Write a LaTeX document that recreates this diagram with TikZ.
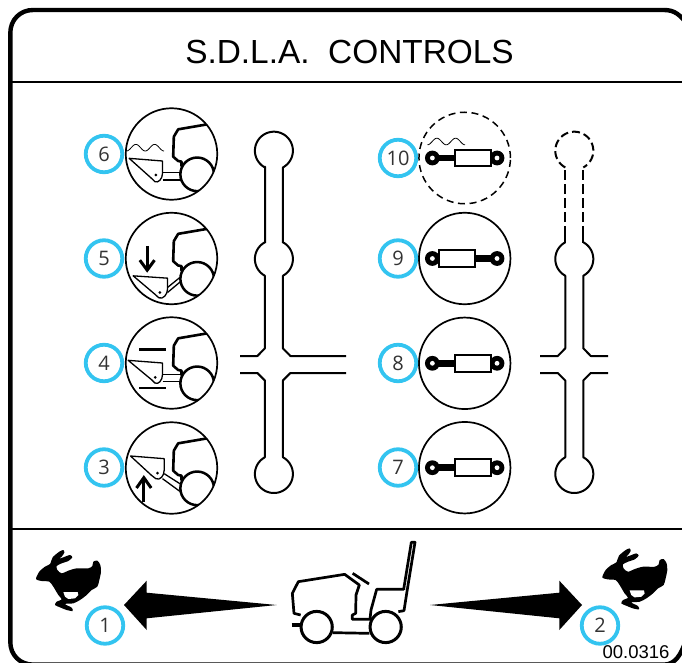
\documentclass[tikz,border=0pt]{standalone}
\usepackage{fontspec}
\setmainfont{Liberation Sans}
\newfontfamily\numfont{Open Sans}
\definecolor{badge}{HTML}{33C4F0}
\definecolor{numink}{HTML}{333333}
\tikzset{
  numbadge/.style={circle,draw=badge,line width=3.8pt,fill=white,minimum size=36.5pt,inner sep=0pt,font=\numfont\fontsize{20}{20}\selectfont,text=numink},
  iconcircle/.style={circle,draw=black,line width=1.7pt,minimum size=91.5pt,inner sep=0pt,fill=white},
  dashcircle/.style={circle,draw=black,line width=1.5pt,minimum size=91.5pt,inner sep=0pt,dash pattern=on 7pt off 4.6pt},
  heavy/.style={line width=2.6pt,line join=round,line cap=round},
  buck/.style={line width=1.3pt,line join=round},
  lever/.style={line width=2pt,line join=round},
  levera/.style={line width=2pt,dash pattern=on 10pt off 4pt},
  rail/.style={line width=1.8pt},
  thinwave/.style={line width=0.8pt},
  machine/.style={line width=2.7pt,line join=round},
  zoomframe/.style={shift={(#1)},x=0.33333pt,y=-0.33333pt},
}
% tractor front of an icon circle, offsets in 1/3 px
\newcommand{\IconBody}[1]{%
 \begin{scope}[zoomframe={#1}]
  \begin{scope}
   \clip (0,0) circle[radius=45.5pt];
   \draw[heavy] (125,-92) -- (20,-74) -- (7,-52) -- (5,8) -- (20,21) -- (30,23) -- (30,36);
   \draw[line width=2.5pt] (77,61) circle[radius=16.8pt];
  \end{scope}
 \end{scope}}
\newcommand{\Eye}[2]{\fill[black] (#1,#2) circle[radius=7.4pt]; \fill[white] (#1,#2) circle[radius=2.4pt];}
\newcommand{\Cyl}[3]{% cx cy barrel left offset
 \begin{scope}[zoomframe={#1,#2}]
  \fill[black] (-97,-10) rectangle (97,10);
  \Eye{-97}{0}\Eye{97}{0}
  \draw[line width=2.2pt,fill=white] (#3,-25) rectangle ++(107,50);
 \end{scope}}
\newcommand{\Wave}[3]{\draw[thinwave] plot[domain=0:720,samples=50] ({#1+\x/720*#3},{#2-3.3*sin(\x-90)});}
% lower part of a lever: cross ends and the bottom bulb
\newcommand{\LeverLow}[3]{%
 \draw[lever] (#2,373) -- ({#1-16.5},373) -- ({#1-9},380.5) -- ({#1-9},457.3)
   -- plot[domain=241.7:-61.7,samples=60] ({#1+19*cos(\x)},{474+19*sin(\x)})
   -- ({#1+9},380.5) -- ({#1+16.5},373) -- (#3,373);
 \draw[lever] (#2,356) -- ({#1-16.5},356) -- ({#1-9},348.3) -- ({#1-9},275.7)
   -- plot[domain=118.3:241.7,samples=30] ({#1+19*cos(\x)},{259+19*sin(\x)})
   ;
 \draw[lever] (#3,356) -- ({#1+16.5},356) -- ({#1+9},348.3) -- ({#1+9},275.7)
   -- plot[domain=61.7:-61.7,samples=30] ({#1+19*cos(\x)},{259+19*sin(\x)})
   ;}
\begin{document}
\begin{tikzpicture}[x=1pt,y=-1pt]
\useasboundingbox (0,0) rectangle (682,663);
\clip (0,0) rectangle (682,663);
% frame
\draw[line width=4.4pt] (664,10) .. controls (675,10) and (680,15) .. (688,25);
\draw[line width=4.4pt] (664,10) -- (33,10) .. controls (20,10) and (10.3,20) .. (10.3,33)
   -- (10.3,642) .. controls (10.3,655) and (20,664.6) .. (33,664.6) -- (664,664.6)
   .. controls (675,664.6) and (681,655) .. (686,640);
\draw[rail] (10,82.3) -- (690,82.3);
\draw[rail] (10,529) -- (690,529);
\node[inner sep=0pt,font=\fontsize{33.4}{34}\selectfont] (title) at (349.5,52) {S.D.L.A.\ \ CONTROLS};
% left icons
\node[iconcircle] (c6) at (171.5,154) {};
\node[iconcircle] (c5) at (171.5,258.5) {};
\node[iconcircle] (c4) at (171.5,363) {};
\node[iconcircle] (c3) at (171.5,468) {};
\IconBody{171.5,154}
\IconBody{171.5,258.5}
\IconBody{171.5,363}
\IconBody{171.5,468}
% icon 6
\begin{scope}[zoomframe={171.5,154}]
 \draw[buck] (-127,13) -- (-27,21) -- (-27,58) .. controls (-27,75) and (-40,88) .. (-50,83) -- (-60,73) -- cycle;
 \fill (-47,63) circle[radius=1.5pt];
 \draw[buck] (-27,55) -- (25,55) (-27,78) -- (30,78);
\end{scope}
\Wave{126.5}{147.7}{37.5}
% icon 5
\begin{scope}[zoomframe={171.5,258.5}]
 \draw[buck] (-115,52) -- (-12,59) -- (-12,92) .. controls (-12,108) and (-25,123) .. (-38,118) -- (-50,107) -- cycle;
 \fill (-35,102) circle[radius=1.5pt];
 \draw[buck] (-12,87) -- (25,57) (-12,102) -- (30,67);
 \draw[line width=3pt] (-73,-38) -- (-73,35);
 \draw[line width=3pt,line join=miter] (-95,5) -- (-73,35) -- (-51,5);
\end{scope}
% icon 4
\begin{scope}[zoomframe={171.5,363}]
 \draw[buck] (-130,-8) -- (-27,0) -- (-27,35) .. controls (-27,52) and (-40,66) .. (-50,60) -- (-60,50) -- cycle;
 \fill (-49,43) circle[radius=1.5pt];
 \draw[buck] (-27,35) -- (25,35) (-27,55) -- (25,55);
 \draw[line width=2.8pt] (-97,-40) -- (-18,-40) (-97,75) -- (-18,75);
\end{scope}
% icon 3
\begin{scope}[zoomframe={171.5,468}]
 \draw[buck] (-123,-36) -- (-22,-28) -- (-22,7) .. controls (-22,24) and (-35,38) .. (-47,32) -- (-60,22) -- cycle;
 \fill (-42,15) circle[radius=1.5pt];
 \draw[buck] (-22,17) -- (25,47) (-27,32) -- (25,70);
 \draw[line width=3pt] (-83,102) -- (-83,29);
 \draw[line width=3pt,line join=miter] (-105,60) -- (-83,29) -- (-61,60);
\end{scope}
% left lever
\draw[lever] (265,243) -- (265,166.7) -- plot[domain=118.3:421.7,samples=70] ({273.9+19*cos(\x)},{150.7+19*sin(\x)}) -- (282.8,243);
\LeverLow{273.9}{240}{346}
% right icons
\node[dashcircle] (c10) at (464.7,158) {};
\node[iconcircle] (c9) at (464.7,258.5) {};
\node[iconcircle] (c8) at (464.7,363.3) {};
\node[iconcircle] (c7) at (464.7,467.7) {};
\Wave{427.5}{141.5}{37.5}
\Cyl{464.7}{158}{-29}
\Cyl{464.7}{258.5}{-77}
\Cyl{464.7}{363.3}{-29}
\Cyl{464.7}{467.7}{-29}
% right lever
\draw[levera] (565.2,236) -- (565.2,166.7);
\draw[levera] (583.4,236) -- (583.4,166.7);
\draw[line width=2pt,dash pattern=on 8pt off 4pt] plot[domain=118.3:421.7,samples=70] ({574.3+19*cos(\x)},{150.7+19*sin(\x)});
\draw[lever] (565.2,236) -- (565.2,243);
\draw[lever] (583.4,236) -- (583.4,243);
\LeverLow{574.3}{540}{608}
% bottom panel: arrows
\fill[black] (124,605) -- (146.7,580.7) -- (146.7,592.7) -- (276.7,605) -- (146.7,618.3) -- (146.7,630) -- cycle;
\fill[black] (582,605) -- (559.3,580.7) -- (559.3,592.7) -- (430,605) -- (559.3,618.3) -- (559.3,630) -- cycle;
% machine
\begin{scope}[zoomframe={270,530}]
 \draw[machine] (92,255) -- (72,250) -- (67,190) -- (85,155) -- (224,133) -- (268,165) -- (258,195) -- (257,250) -- (247,255) -- (247,268) -- (300,268) -- (303,240) -- (320,178) -- (401,178) -- (424,37) -- (435,37) -- (412,178) -- (402,242) -- (385,245);
 \draw[machine] (248,130) -- (297,162);
 \draw[machine] (188,308) -- (298,310);
 \draw[line width=4.4pt] (65,285) -- (92,285);
 \draw[line width=3pt,fill=white] (140,291) circle[radius=15.6pt];
 \draw[line width=3pt,fill=white] (347,291) circle[radius=15.6pt];
\end{scope}
% rabbits
\foreach \rx/\ry in {20/530,586.3/528.4}{
\begin{scope}[zoomframe={\rx,\ry}]
 \fill[black] plot[smooth cycle,tension=0.45] coordinates {(48,147) (58,125) (75,110) (90,102) (98,82) (118,65) (130,60) (133,68) (125,80) (118,86) (130,82) (150,75) (157,82) (145,93) (125,100) (110,108) (112,120) (125,130) (145,122) (170,115) (205,115) (217,108) (220,95) (232,92) (241,105) (243,125) (238,150) (232,170) (215,180) (200,195) (180,210) (160,220) (135,222) (155,233) (158,243) (140,240) (120,232) (105,225) (110,215) (125,208) (115,195) (100,170) (88,155) (65,153)};
 \fill[white] (130,186) -- (173,186) -- (175,195) -- (165,205) -- (145,207) -- (135,200) -- cycle;
\end{scope}}
% numbers
\node[numbadge] (n6) at (104,154) {6};
\node[numbadge] (n5) at (104,258.5) {5};
\node[numbadge] (n4) at (104,363) {4};
\node[numbadge] (n3) at (104,467.5) {3};
\node[numbadge] (n10) at (398,158) {10};
\node[numbadge] (n9) at (398,258.5) {9};
\node[numbadge] (n8) at (398,363) {8};
\node[numbadge] (n7) at (398,467.5) {7};
\node[numbadge] (n1) at (105,625.5) {1};
\node[numbadge] (n2) at (600,625.5) {2};
\node[inner sep=0pt,font=\fontsize{18.5}{19}\selectfont] (code) at (636,652) {00.0316};
\end{tikzpicture}
\end{document}
